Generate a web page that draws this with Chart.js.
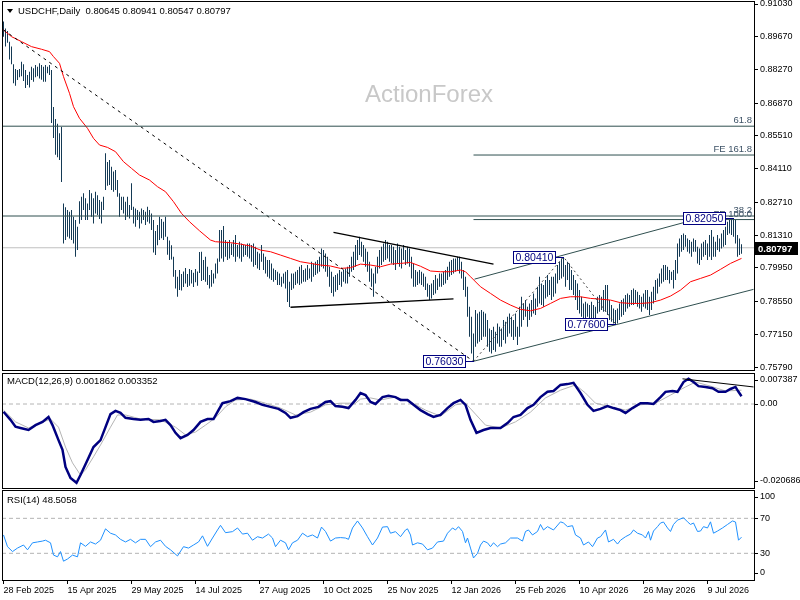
<!DOCTYPE html>
<html>
<head>
<meta charset="utf-8">
<script src="https://cdn.jsdelivr.net/npm/chart.js@4.4.1/dist/chart.umd.min.js"></script>
<style>
  html, body { margin: 0; padding: 0; background: #fff; }
  #wrap { position: relative; width: 800px; height: 600px; }
  #wrap canvas { position: absolute; left: 0; top: 0; }
</style>
</head>
<body>
<div id="wrap">
  <canvas id="priceCanvas" width="800" height="600"></canvas>
  <canvas id="macdCanvas" width="800" height="600"></canvas>
  <canvas id="rsiCanvas" width="800" height="600"></canvas>
</div>
<script>
"use strict";

// daily bars, price x 10000
const highPips = [
  9030,9000,8990,8945,8925,8850,8830,8826,8830,8861,
  8850,8826,8805,8819,8840,8833,8847,8840,8854,8847,
  8840,8847,8840,8847,8826,8671,8620,8600,8560,8587,
  8266,8250,8238,8231,8238,8210,8196,8168,8275,8294,
  8308,8287,8266,8322,8308,8287,8315,8300,8280,8273,
  8294,8476,8440,8448,8420,8400,8406,8364,8308,8294,
  8294,8273,8294,8259,8350,8252,8245,8238,8231,8245,
  8238,8231,8252,8238,8224,8196,8150,8175,8210,8200,
  8189,8210,8126,8110,8090,8042,7986,7958,7986,7970,
  7980,7995,7970,7990,7986,7975,7990,7980,8062,8063,
  8028,8042,8000,7965,7986,7972,8014,8035,8154,8154,
  8171,8112,8105,8112,8098,8112,8133,8091,8105,8098,
  8091,8091,8098,8098,8091,8098,8084,8063,8056,8091,
  8056,8042,8028,8028,8014,7993,7986,7979,7972,7958,
  7972,7979,7986,7937,7972,7972,7979,7986,8000,8007,
  7986,7993,8007,7993,8021,8014,8021,8028,8042,8077,
  8070,8056,8042,8000,7979,7958,7965,7972,7986,7979,
  7986,7993,8000,8007,8042,8063,8091,8112,8126,8105,
  8091,8077,8063,8021,7993,7972,8000,8042,8070,8084,
  8098,8112,8105,8091,8091,8084,8070,8098,8084,8077,
  8091,8070,8084,8077,8042,8014,7986,7979,7986,7979,
  7972,7958,7930,7923,7930,7944,7965,7951,7972,7972,
  7979,7986,8000,8021,8028,8035,8035,8042,8042,8021,
  7986,7958,7916,7832,7790,7720,7818,7804,7811,7818,
  7811,7804,7776,7741,7734,7748,7727,7762,7748,7741,
  7776,7769,7790,7804,7790,7776,7804,7748,7832,7874,
  7846,7860,7832,7846,7860,7888,7867,7916,7958,7930,
  7923,7944,7965,7944,7958,7958,7972,8007,8021,8035,
  8041,8007,8021,8014,7986,7965,7944,7930,7902,7874,
  7846,7853,7846,7839,7853,7839,7832,7874,7881,7874,
  7902,7923,7923,7860,7839,7825,7818,7825,7846,7860,
  7867,7881,7888,7881,7902,7909,7902,7895,7881,7874,
  7888,7902,7902,7874,7895,7916,7944,7951,7972,7993,
  8007,8007,8000,7986,7979,7986,8028,8098,8119,8133,
  8140,8133,8119,8112,8105,8119,8112,8084,8077,8098,
  8105,8112,8098,8133,8154,8126,8105,8133,8119,8140,
  8154,8168,8189,8196,8203,8205,8196,8133,8119,8094
];
const lowPips = [
  8965,8925,8940,8870,8850,8770,8760,8784,8795,8800,
  8780,8750,8763,8752,8784,8777,8795,8800,8790,8785,
  8777,8777,8812,8805,8603,8540,8470,8460,8448,8356,
  8098,8112,8126,8119,8112,8098,8042,8070,8180,8196,
  8238,8196,8196,8238,8210,8182,8224,8217,8200,8182,
  8238,8322,8340,8343,8322,8315,8322,8294,8210,8238,
  8224,8196,8210,8203,8238,8182,8168,8196,8161,8182,
  8196,8175,8189,8182,8154,8060,8049,8090,8112,8120,
  8112,8126,8050,8028,8030,7958,7909,7874,7902,7900,
  7915,7930,7915,7920,7930,7915,7935,7920,7974,7940,
  7944,7937,7923,7909,7916,7930,7951,7972,8021,8035,
  8021,8042,8028,8035,8049,8042,8021,8042,8035,8021,
  8042,8049,8042,8035,8021,8000,8007,7993,7986,8021,
  7986,7972,7958,7951,7944,7937,7944,7923,7923,7916,
  7930,7909,7852,7831,7902,7909,7923,7930,7923,7930,
  7937,7937,7944,7951,7937,7958,7965,7972,7979,8000,
  7993,7979,7958,7916,7890,7875,7895,7902,7923,7916,
  7937,7930,7930,7958,7979,7986,8000,8028,8049,8042,
  8021,8000,7979,7937,7916,7874,7930,7972,7993,8007,
  8021,8028,8035,8021,8014,8007,7986,8014,8000,7993,
  8028,8007,8014,8000,7951,7916,7916,7923,7930,7923,
  7916,7902,7874,7860,7867,7881,7888,7902,7916,7916,
  7923,7930,7944,7958,7965,7972,7979,7986,7972,7951,
  7902,7874,7790,7706,7636,7603,7664,7678,7685,7692,
  7706,7706,7664,7643,7636,7650,7643,7678,7664,7664,
  7692,7678,7706,7720,7706,7692,7706,7671,7706,7748,
  7776,7790,7748,7776,7790,7804,7797,7832,7846,7839,
  7832,7867,7874,7881,7860,7874,7888,7930,7944,7951,
  7958,7916,7944,7902,7902,7881,7860,7818,7804,7790,
  7776,7783,7790,7783,7776,7783,7783,7804,7811,7818,
  7811,7811,7797,7776,7769,7762,7760,7762,7776,7790,
  7797,7811,7825,7832,7839,7839,7846,7832,7825,7811,
  7832,7825,7818,7797,7818,7846,7860,7888,7916,7930,
  7937,7944,7944,7930,7944,7909,7944,7972,8042,8063,
  8070,8084,8063,8056,8042,8063,8063,8014,8007,8028,
  8042,8049,8028,8042,8028,8042,8042,8070,8063,8077,
  8084,8091,8133,8140,8133,8126,8098,8042,8049,8055
];
const lastOHLC = [0.80645, 0.80941, 0.80547, 0.80797];

// moving average, [bar, price x 10000]
const maPts = [
  [0,8994],[4,8966],[9,8945],[14,8924],[19,8913],[23,8903],[25,8882],[28,8854],[30,8798],[33,8728],
  [35,8672],[38,8623],[42,8581],[45,8539],[48,8511],[52,8501],[56,8483],[60,8441],[64,8413],[68,8385],
  [73,8364],[77,8336],[81,8315],[85,8273],[89,8224],[93,8189],[98,8151],[103.5,8112],[106,8105],[113.5,8101],
  [118.5,8095],[123.5,8087],[128.5,8070],[133.5,8063],[138.5,8049],[143.5,8035],[148.5,8021],[153.5,8014],[158.5,8007],[163.5,8003],
  [168.5,7993],[173.5,7996],[178.5,8011],[183.5,8007],[188.5,8000],[193.5,8011],[198.5,8014],[203.5,8018],[208.5,8002],[213.5,7982],
  [218.5,7979],[223.5,7979],[228.5,7986],[231,7979],[233.5,7958],[238.5,7916],[243.5,7888],[248.5,7860],[253.5,7839],[258.5,7821],
  [263.5,7815],[268.5,7825],[273.5,7846],[278.5,7867],[283.5,7874],[288.5,7874],[293.5,7867],[298.5,7864],[303.5,7860],[308.5,7849],
  [313.5,7846],[318.5,7846],[323.5,7849],[328.5,7860],[333.5,7877],[338.5,7902],[343.5,7937],[348.5,7951],[353.5,7965],[358.5,7989],
  [363.5,8014],[369,8035]
];

// MACD(12,26,9) main and signal, [bar, value]
const macdPts = [
  [0,-0.0019],[3.5,-0.0039],[6,-0.0056],[8.5,-0.0059],[12.5,-0.0064],[16,-0.0052],[19.5,-0.0044],[22.5,-0.0032],[24.5,-0.0052],[27.5,-0.0089],
  [29.5,-0.0113],[31,-0.0155],[33.5,-0.0182],[36.5,-0.0194],[38.5,-0.0175],[42,-0.0138],[45,-0.0106],[48.5,-0.0089],[51,-0.0057],[53.5,-0.0025],
  [56,-0.0017],[58.5,-0.0022],[61,-0.0034],[65,-0.0037],[68.5,-0.0039],[72.5,-0.0037],[75,-0.0044],[78.5,-0.0042],[81,-0.0039],[83.5,-0.0052],
  [86,-0.0071],[88.5,-0.0084],[92,-0.0076],[95,-0.0064],[98.5,-0.0044],[102,-0.0037],[105,-0.0037],[107.5,-0.0015],[109.5,0.0002],[113.5,0.0007],
  [117,0.0015],[121,0.0012],[126,0.0005],[129.5,-0.0002],[133.5,-0.0007],[137.5,-0.0012],[141,-0.0022],[143.5,-0.0034],[147,-0.0030],[150,-0.0020],
  [153.5,-0.0012],[157.5,-0.0007],[161,0.0005],[163.5,0.0007],[166,-0.0005],[169.5,-0.0007],[172.5,-0.0010],[176,0.0010],[178.5,0.0027],[181,0.0022],
  [183.5,0.0005],[186,0.0000],[189.5,0.0017],[192.5,0.0020],[196,0.0017],[198.5,0.0010],[202,0.0010],[205,-0.0002],[208.5,-0.0015],[212,-0.0025],
  [215,-0.0032],[218.5,-0.0027],[222,-0.0010],[225,0.0002],[228.5,0.0010],[231,-0.0002],[233.5,-0.0039],[236.5,-0.0071],[240,-0.0064],[243.5,-0.0059],
  [248.5,-0.0059],[252,-0.0047],[255,-0.0032],[258.5,-0.0027],[262,-0.0010],[265,-0.0002],[268.5,0.0017],[272,0.0030],[275,0.0032],[278.5,0.0047],
  [282,0.0049],[285,0.0052],[288.5,0.0027],[292,-0.0002],[295,-0.0017],[298.5,-0.0012],[302,-0.0005],[305,-0.0010],[308.5,-0.0015],[311,-0.0022],
  [314.5,-0.0010],[318.5,0.0002],[322,0.0002],[325,0.0000],[328.5,0.0017],[331,0.0030],[334.5,0.0032],[337,0.0030],[340,0.0054],[342.5,0.0062],
  [345,0.0054],[347.5,0.0044],[351,0.0042],[354.5,0.0039],[357.5,0.0030],[361,0.0030],[363.5,0.0037],[366,0.0042],[367.5,0.0030],[369,0.0019]
];
const signalPts = [
  [0,-0.0015],[6,-0.0044],[12.5,-0.0059],[18.5,-0.0047],[23.5,-0.0037],[27.5,-0.0057],[31,-0.0106],[34.5,-0.0145],[38.5,-0.0175],[41,-0.0162],
  [45,-0.0130],[48.5,-0.0101],[53.5,-0.0057],[57,-0.0027],[61,-0.0027],[68.5,-0.0037],[78.5,-0.0039],[86,-0.0057],[91,-0.0076],[96,-0.0069],
  [101,-0.0052],[106,-0.0034],[111,-0.0007],[116,0.0010],[123.5,0.0012],[131,0.0002],[138.5,-0.0010],[146,-0.0027],[153.5,-0.0020],[161,-0.0002],
  [168.5,0.0002],[176,0.0002],[178.5,0.0012],[183.5,0.0015],[188.5,0.0010],[196,0.0017],[203.5,0.0005],[211,-0.0015],[218.5,-0.0030],[226,-0.0002],
  [231,0.0002],[236,-0.0025],[241,-0.0052],[248.5,-0.0059],[256,-0.0044],[263.5,-0.0020],[271,0.0015],[278.5,0.0034],[286,0.0047],[291,0.0027],
  [296,0.0002],[303.5,-0.0007],[311,-0.0015],[318.5,-0.0002],[326,0.0002],[333.5,0.0022],[341,0.0042],[346,0.0054],[353.5,0.0044],[361,0.0032],
  [369,0.0034]
];

// RSI(14), [bar, value]
const rsiPts = [
  [0,51],[2,37.6],[4.5,32],[7,36],[10,39.5],[12,34],[14.5,42],[17,43],[19.5,44],[21,45],
  [23.5,42],[25,28],[27,26],[28.5,32],[30,21],[32,23.5],[34.5,28],[37,26],[38.5,42],[41,38],
  [43.5,43],[46,40.6],[48.5,45],[51,58],[53.5,53],[56,51],[58.5,46],[61,43],[63.5,46],[66,42],
  [68.5,46],[71,46],[73.5,37.6],[76,43],[78.5,45],[81,38],[83.5,34],[87,27],[90,37.6],[92.5,36],
  [95,39.5],[97.5,43],[99.5,50],[102,38],[104.5,47.5],[107,56.7],[108.5,62],[111,53.6],[114.5,54.8],[117,59],
  [119.5,52],[122,53],[124.5,45],[127,49],[129.5,47.5],[132.5,52],[134.5,47.5],[136,37.6],[138.5,45],[141,42],
  [142.5,34],[144.5,42],[147,45],[149.5,53],[152,49],[154.5,51],[157,47.5],[159,60],[161,55],[163.5,44],
  [166,47.5],[168.5,48],[171,47.5],[172.5,46],[174.5,59],[177,67],[179.5,59],[182,49],[184.5,39.5],[187,47.5],
  [189.5,60],[192,60.5],[193.5,53],[196,54.8],[198.5,49],[201,56.7],[202,58],[203.5,51],[204.5,39.5],[207,42],
  [209.5,40.6],[212,34],[214.5,36],[217,43],[220,44],[222,53],[224.5,59],[226,56.7],[227.5,60.5],[229.5,55],
  [231,42],[232,47.5],[233.5,36],[235,24.7],[237,30],[238.5,39.5],[240,44],[242,42],[243.5,37.6],[245,42],
  [247,37.6],[248.5,40.6],[251,42],[253.5,47.5],[257,47.5],[259.5,44],[261,55],[262.5,56.7],[264.5,51],[267,55],
  [268.5,63],[270,56.7],[272,60.5],[275,56.7],[278.5,66],[280,64.7],[282,60.5],[284.5,61.6],[286,51],[288.5,47.5],
  [290,39.5],[292.5,43],[294.5,37.6],[297,47.5],[298.5,49],[301,56.7],[302.5,43],[305,46],[307,40.6],[308.5,45],
  [311,49],[313.5,52],[315,56.7],[317,53],[319.5,51],[321,47.5],[322.5,55],[323.5,45],[325,55.5],[327,60.5],
  [328.5,64.7],[330,65.8],[332,59],[333.5,55],[335,63],[337,68],[340,70.7],[342,66],[343.5,63],[345,64.7],
  [347,55],[348.5,55.5],[350,60.5],[352,59],[353.5,66],[355,53],[357,55.5],[359.5,59],[362,63],[364.5,67],
  [366,65.8],[367.5,45],[369,48.5]
];

const dateIdx = [0, 32, 64, 96, 128, 160, 192, 224, 256, 288, 320, 352];
const dateLabels = ["28 Feb 2025", "15 Apr 2025", "29 May 2025", "14 Jul 2025", "27 Aug 2025", "10 Oct 2025",
  "25 Nov 2025", "12 Jan 2026", "25 Feb 2026", "10 Apr 2026", "26 May 2026", "9 Jul 2026"];

const priceTicks = [0.75790, 0.77150, 0.78550, 0.79950, 0.81310, 0.82710, 0.84110, 0.85510, 0.86870, 0.88270, 0.89670, 0.91030];
const macdTicks = [-0.020686, 0, 0.007387];
const macdTickText = ["-0.020686", "0.00", "0.007387"];
const rsiTicks = [0, 30, 70, 100];
const rsiLevels = [30, 70];

// fibonacci / projection levels
const fibNames = ["61.8", "FE 161.8", "38.2", "FE 100.0"];
const fibPrices = [0.8590, 0.8469, 0.8213, 0.8198];
const fibFrom = [null, 235, null, 235];

// drawn trend lines, [bar, price]
const trendDown = [[0, 0.8994], [235, 0.7603]];
const zigzag = [[235, 0.7603], [280, 0.8041], [306, 0.7760]];
const channelTop = [[235.5, 0.7948], [340, 0.8185]];
const channelBottom = [[235, 0.7603], [375, 0.7905]];
const triangleTop = [[165, 0.8144], [245, 0.8011]];
const triangleBottom = [[143.5, 0.7830], [225, 0.7865]];
const macdTrend = [[339.5, 0.0062], [375, 0.0042]];

// swing point labels
const swingBars = [235, 280, 306, 365];
const swingPrices = [0.76030, 0.80410, 0.77600, 0.82050];

const FONT = "'Liberation Sans', Arial, sans-serif";
const X_MIN = -0.75;
const X_MAX = 375.25;
const BAR_COLOR = "#143a55";
const LEVEL_COLOR = "#2f4f4f";

Chart.defaults.font.family = FONT;
Chart.defaults.font.size = 9;
Chart.defaults.color = "#000";

const pts = (arr, k = 1) => arr.map(p => ({ x: p[0], y: p[1] * k }));

function xAxis(show) {
  return {
    type: "linear",
    min: X_MIN,
    max: X_MAX,
    offset: false,
    display: show,
    afterBuildTicks: s => { s.ticks = dateIdx.map(v => ({ value: v })); },
    afterFit: s => {
      if (show) s.height = 20;
      s.paddingLeft = 0;
      s.paddingRight = 0;
    },
    ticks: { callback: (v, i) => dateLabels[i], align: "start", autoSkip: false, maxRotation: 0, padding: 1 },
    grid: { drawOnChartArea: false, tickLength: 4, color: "#000", offset: false },
    border: { display: false }
  };
}

// labels sit at their value but never closer than padPx to the panel edge
function yAxis(min, max, heightPx, padPx, vals, text) {
  const pad = padPx * (max - min) / heightPx;
  return {
    position: "right",
    min: min,
    max: max,
    afterBuildTicks: s => {
      s.ticks = vals.map(v => ({ value: Math.min(max - pad, Math.max(min + pad, v)) }));
    },
    afterFit: s => { s.width = 46; s.paddingTop = 0; s.paddingBottom = 0; },
    ticks: { callback: (v, i) => text(i), autoSkip: false, padding: 2 },
    grid: { drawOnChartArea: false, tickLength: 4, color: "#000" },
    border: { display: false }
  };
}

function frame(chart) {
  const { ctx, chartArea: a } = chart;
  ctx.save();
  ctx.strokeStyle = "#000";
  ctx.lineWidth = 1;
  ctx.strokeRect(a.left + 0.5, a.top + 0.5, a.right - a.left, a.bottom - a.top);
  ctx.restore();
}

function header(ctx, x, y, str, arrow) {
  ctx.save();
  ctx.font = "9.5px " + FONT;
  ctx.fillStyle = "#000";
  ctx.textBaseline = "middle";
  ctx.fillText(str, x, y);
  if (arrow) {
    ctx.beginPath();
    ctx.moveTo(7, y - 2);
    ctx.lineTo(13, y - 2);
    ctx.lineTo(10, y + 2);
    ctx.closePath();
    ctx.fill();
  }
  ctx.restore();
}

function lineSet(data, color, width, dash, order) {
  return {
    type: "line", data: data, borderColor: color, borderWidth: width, borderDash: dash || [],
    pointRadius: 0, tension: 0, fill: false, order: order
  };
}

const baseOptions = (padding, scales) => ({
  responsive: false,
  animation: false,
  devicePixelRatio: 1,
  events: [],
  layout: { padding: padding },
  plugins: { legend: { display: false }, tooltip: { enabled: false } },
  scales: scales
});

document.addEventListener("DOMContentLoaded", () => {
  // price panel
  const priceDeco = {
    id: "priceDeco",
    beforeDatasetsDraw(chart) {
      const ctx = chart.ctx;
      ctx.save();
      ctx.font = "24px " + FONT;
      ctx.fillStyle = "#c8c8c8";
      ctx.textAlign = "center";
      ctx.textBaseline = "middle";
      ctx.fillText("ActionForex", 429, 95);
      ctx.restore();
    },
    afterDatasetsDraw(chart) {
      const { ctx, chartArea: a } = chart;
      const xs = chart.scales.x, ys = chart.scales.y;
      ctx.save();
      // level captions
      ctx.font = "9.5px " + FONT;
      ctx.fillStyle = "#3d5266";
      ctx.textAlign = "right";
      ctx.textBaseline = "alphabetic";
      fibNames.forEach((n, i) => {
        ctx.fillText(n, a.right - 2, Math.round(ys.getPixelForValue(fibPrices[i])) - 3);
      });
      // swing labels
      ctx.font = "10.5px " + FONT;
      ctx.textAlign = "left";
      ctx.textBaseline = "middle";
      swingBars.forEach((b, i) => {
        const px = Math.round(xs.getPixelForValue(b));
        const py = Math.round(ys.getPixelForValue(swingPrices[i]));
        const txt = swingPrices[i].toFixed(5);
        const w = Math.ceil(ctx.measureText(txt).width) + 4;
        const right = px - 9;
        ctx.fillStyle = "#fff";
        ctx.fillRect(right - w, py - 6, w, 12);
        ctx.strokeStyle = "#000080";
        ctx.lineWidth = 1;
        ctx.strokeRect(right - w + 0.5, py - 5.5, w, 12);
        ctx.beginPath();
        ctx.moveTo(right, py + 0.5);
        ctx.lineTo(px, py + 0.5);
        ctx.stroke();
        ctx.fillStyle = "#000080";
        ctx.fillText(txt, right - w + 2.5, py + 1);
      });
      // last price tag
      const ly = Math.round(ys.getPixelForValue(lastOHLC[3]));
      ctx.fillStyle = "#000";
      ctx.fillRect(a.right + 1, ly - 6, 43, 13);
      ctx.fillStyle = "#fff";
      ctx.font = "bold 9.5px " + FONT;
      ctx.fillText(lastOHLC[3].toFixed(5), a.right + 4, ly + 1);
      ctx.restore();
    },
    afterDraw(chart) {
      frame(chart);
      header(chart.ctx, 18, 11, "USDCHF,Daily  " + lastOHLC.map(v => v.toFixed(5)).join(" "), true);
    }
  };

  const priceSets = [
    lineSet([{ x: X_MIN, y: lastOHLC[3] }, { x: X_MAX, y: lastOHLC[3] }], "#c0c0c0", 1, null, 20),
    {
      type: "bar",
      data: highPips.map((h, i) => ({ x: i, y: [lowPips[i] / 1e4, h / 1e4] })),
      backgroundColor: BAR_COLOR,
      borderWidth: 0,
      barThickness: 1,
      inflateAmount: 0,
      order: 10
    },
    lineSet(pts(maPts, 1e-4), "#ff0000", 1, null, 5),
    lineSet(pts(trendDown), "#000", 1, [3, 4], 3),
    lineSet(pts(zigzag), "#404040", 1, [2, 3], 3),
    lineSet(pts(channelTop), LEVEL_COLOR, 1, null, 3),
    lineSet(pts(channelBottom), LEVEL_COLOR, 1, null, 3),
    lineSet(pts(triangleTop), "#000", 1.3, null, 3),
    lineSet(pts(triangleBottom), "#000", 1.3, null, 3)
  ];
  fibPrices.forEach((p, i) => {
    const from = fibFrom[i] === null ? X_MIN : fibFrom[i];
    priceSets.push(lineSet([{ x: from, y: p }, { x: X_MAX, y: p }], LEVEL_COLOR, 1, null, 2));
  });

  new Chart(document.querySelector("#priceCanvas").getContext("2d"), {
    type: "bar",
    data: { datasets: priceSets },
    options: baseOptions({ left: 2, top: 1, right: 0, bottom: 230 }, {
      x: xAxis(false),
      y: yAxis(0.75665, 0.91156, 369, 0, priceTicks, i => priceTicks[i].toFixed(5))
    }),
    plugins: [priceDeco]
  });

  // MACD panel
  new Chart(document.querySelector("#macdCanvas").getContext("2d"), {
    type: "line",
    data: {
      datasets: [
        lineSet([{ x: X_MIN, y: 0 }, { x: X_MAX, y: 0 }], "#b4b4b4", 1, [4, 3], 9),
        lineSet(pts(signalPts), "#b4b4b4", 1, null, 5),
        lineSet(pts(macdPts), "#000080", 2.5, null, 4),
        lineSet(pts(macdTrend), "#000", 1, null, 3)
      ]
    },
    options: baseOptions({ left: 2, top: 373, right: 0, bottom: 112 }, {
      x: xAxis(false),
      y: yAxis(-0.020684, 0.007634, 115, 7, macdTicks, i => macdTickText[i])
    }),
    plugins: [{
      id: "macdDeco",
      afterDraw(chart) {
        frame(chart);
        header(chart.ctx, 7, 381, "MACD(12,26,9) 0.001862 0.003352", false);
      }
    }]
  });

  // RSI panel
  const rsiSets = rsiLevels.map(l => lineSet([{ x: X_MIN, y: l }, { x: X_MAX, y: l }], "#b4b4b4", 1, [4, 3], 9));
  rsiSets.push(lineSet(pts(rsiPts), "#1e90ff", 1, null, 4));

  new Chart(document.querySelector("#rsiCanvas").getContext("2d"), {
    type: "line",
    data: { datasets: rsiSets },
    options: baseOptions({ left: 2, top: 490, right: 0, bottom: 0 }, {
      x: xAxis(true),
      y: yAxis(-0.5, 102.4, 90, 7, rsiTicks, i => String(rsiTicks[i]))
    }),
    plugins: [{
      id: "rsiDeco",
      afterDraw(chart) {
        frame(chart);
        header(chart.ctx, 7, 500, "RSI(14) 48.5058", false);
      }
    }]
  });
});
</script>
</body>
</html>
